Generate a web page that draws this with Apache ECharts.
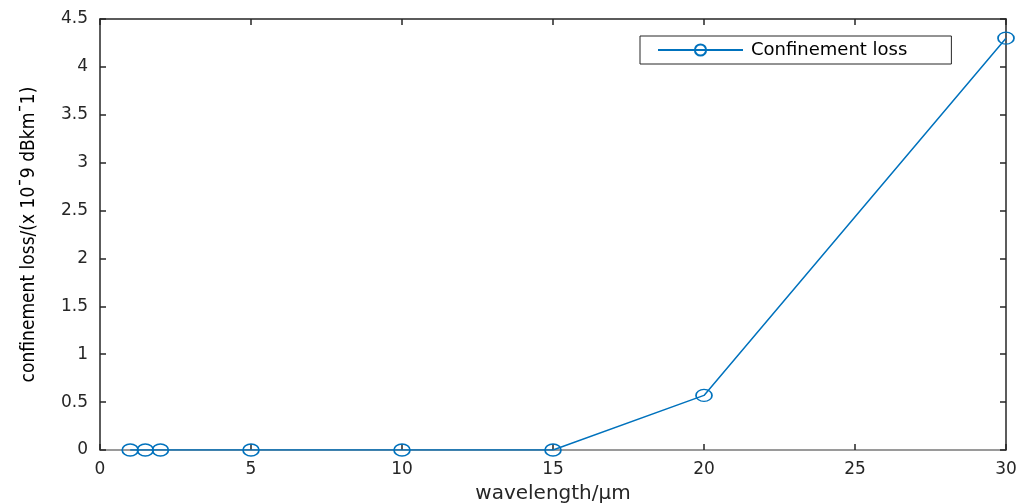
<!DOCTYPE html>
<html>
<head>
<meta charset="utf-8">
<script src="https://cdn.jsdelivr.net/npm/echarts@6/dist/echarts.min.js"></script>
<style>html,body{margin:0;padding:0;background:#fff}#c{width:1019px;height:504px}</style>
</head>
<body>
<div id="c"></div>
<script>
const wavelength = [1, 1.5, 2, 5, 10, 15, 20, 30];
const confinementLoss = [0, 0, 0, 0, 0, 0, 0.57, 4.3];
const seriesName = 'Confinement loss';
const xTitle = 'wavelength/μm';
const yTitle = 'confinement loss/(x 10ˉ9 dBkmˉ1)';

const chart = echarts.init(document.getElementById('c'));
const font = 'DejaVu Sans';
const dark = '#262626';
chart.setOption({
  animation: false,
  grid: {left: 100, right: 13, top: 19, bottom: 54, outerBoundsMode: 'none', containLabel: false},
  legend: {
    left: 640, top: 36, padding: [5, 44, 5, 17],
    borderColor: dark, borderWidth: 1, backgroundColor: '#fff',
    itemWidth: 85, itemHeight: 14, itemGap: 6,
    textStyle: {fontFamily: font, fontSize: 18, color: '#000', padding: [0, 0, 0, 3]},
    data: [seriesName]
  },
  xAxis: [{
    type: 'value', min: 0, max: 30, interval: 5,
    name: xTitle, nameLocation: 'middle', nameGap: 34,
    nameTextStyle: {fontFamily: font, fontSize: 20, color: dark},
    axisLine: {onZero: false, lineStyle: {color: '#7a7a7a', width: 1.5}},
    axisTick: {inside: true, length: 6, lineStyle: {color: dark, width: 1.5}},
    axisLabel: {fontFamily: font, fontSize: 17, color: dark, margin: 11},
    splitLine: {show: false}
  }, {
    type: 'value', min: 0, max: 30, interval: 5, position: 'top',
    axisLine: {onZero: false, lineStyle: {color: dark, width: 1.5}},
    axisTick: {inside: true, length: 6, lineStyle: {color: dark, width: 1.5}},
    axisLabel: {show: false}, splitLine: {show: false}
  }],
  yAxis: [{
    type: 'value', min: 0, max: 4.5, interval: 0.5,
    name: yTitle, nameLocation: 'middle', nameGap: 61, nameRotate: 90,
    nameTextStyle: {fontFamily: 'DejaVu Sans Condensed, Liberation Sans Narrow, sans-serif', fontSize: 19, color: '#000'},
    axisLine: {onZero: false, lineStyle: {color: dark, width: 1.5}},
    axisTick: {inside: true, length: 6, lineStyle: {color: dark, width: 1.5}},
    axisLabel: {fontFamily: font, fontSize: 17, color: dark, margin: 12},
    splitLine: {show: false}
  }, {
    type: 'value', min: 0, max: 4.5, interval: 0.5, position: 'right',
    axisLine: {onZero: false, lineStyle: {color: dark, width: 1.5}},
    axisTick: {inside: true, length: 6, lineStyle: {color: dark, width: 1.5}},
    axisLabel: {show: false}, splitLine: {show: false}
  }],
  series: [{
    name: seriesName, type: 'line',
    data: wavelength.map((x, i) => [x, confinementLoss[i]]),
    symbol: 'circle', symbolSize: [16, 12], showAllSymbol: true,
    lineStyle: {color: '#0072BD', width: 1.5},
    itemStyle: {color: 'rgba(0,0,0,0)', borderColor: '#0072BD', borderWidth: 1.5},
    z: 5
  }]
});
</script>
</body>
</html>
